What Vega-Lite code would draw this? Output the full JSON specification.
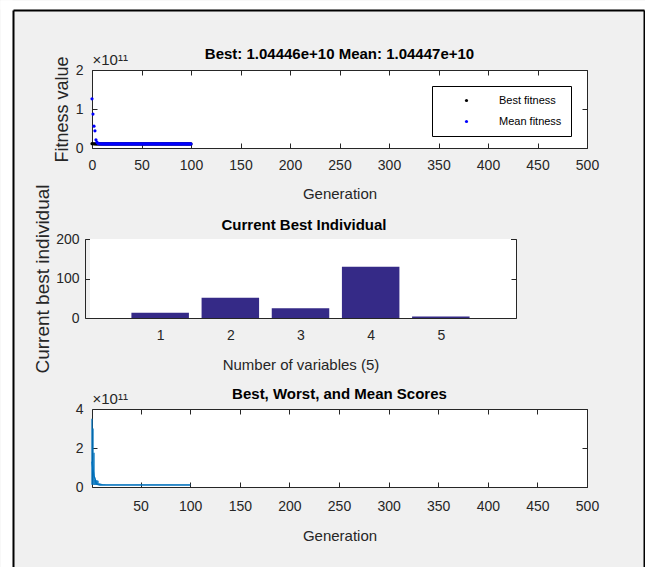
{
  "$schema": "https://vega.github.io/schema/vega-lite/v6.json",
  "autosize": {"type": "none"},
  "padding": {"left": 92, "top": 70, "right": 553, "bottom": 497},
  "background": "#f0f0f0",
  "bounds": "flush",
  "spacing": 91,
  "resolve": {"scale": {"color": "independent"}, "legend": {"color": "independent"}},
  "config": {
    "font": "Liberation Sans",
    "view": {"stroke": null, "fill": "white"},
    "axis": {
      "grid": false,
      "zindex": 1,
      "domainColor": "#262626",
      "tickColor": "#262626",
      "labelColor": "#262626",
      "titleColor": "#262626",
      "tickSize": -5,
      "labelFontSize": 14,
      "titleFontSize": 15,
      "titleFontWeight": "normal",
      "labelFlush": false,
      "labelOverlap": false
    },
    "title": {"fontSize": 15, "fontWeight": "bold", "color": "#000000", "frame": "group", "baseline": "alphabetic"}
  },
  "vconcat": [
    {
      "width": 495, "height": 78,
      "title": {"text": "Best: 1.04446e+10 Mean: 1.04447e+10", "offset": -69, "frame": "group", "baseline": "alphabetic"},
      "data": {"values": [
        {"g":0,"b":1.12e10,"m":1.26e11},{"g":1,"b":1.09e10,"m":8.7e10},{"g":2,"b":1.07e10,"m":5.6e10},{"g":3,"b":1.06e10,"m":4.4e10},{"g":4,"b":1.055e10,"m":2.1e10},{"g":5,"b":1.05e10,"m":1.5e10},{"g":6,"b":1.048e10,"m":1.2e10},{"g":7,"b":1.047e10,"m":1.1e10},{"g":8,"b":1.046e10,"m":1.07e10},{"g":9,"b":1.0455e10,"m":1.06e10},
        {"g":10,"b":1.0452e10,"m":1.052e10},{"g":11,"b":1.0450e10,"m":1.050e10},{"g":12,"b":1.0449e10,"m":1.049e10},{"g":13,"b":1.0449e10,"m":1.048e10},{"g":14,"b":1.0448e10,"m":1.048e10},{"g":15,"b":1.0448e10,"m":1.047e10},{"g":16,"b":1.0448e10,"m":1.047e10},{"g":17,"b":1.0447e10,"m":1.047e10},{"g":18,"b":1.0447e10,"m":1.046e10},{"g":19,"b":1.0447e10,"m":1.046e10},
        {"g":20,"b":1.0447e10,"m":1.046e10},{"g":21,"b":1.0447e10,"m":1.046e10},{"g":22,"b":1.0447e10,"m":1.046e10},{"g":23,"b":1.0447e10,"m":1.0458e10},{"g":24,"b":1.0447e10,"m":1.0458e10},{"g":25,"b":1.0447e10,"m":1.0457e10},{"g":26,"b":1.0447e10,"m":1.0457e10},{"g":27,"b":1.0447e10,"m":1.0456e10},{"g":28,"b":1.0447e10,"m":1.0456e10},{"g":29,"b":1.0447e10,"m":1.0456e10},
        {"g":30,"b":1.0447e10,"m":1.0455e10},{"g":31,"b":1.0447e10,"m":1.0455e10},{"g":32,"b":1.0447e10,"m":1.0455e10},{"g":33,"b":1.0447e10,"m":1.0454e10},{"g":34,"b":1.0447e10,"m":1.0454e10},{"g":35,"b":1.0447e10,"m":1.0454e10},{"g":36,"b":1.0446e10,"m":1.0453e10},{"g":37,"b":1.0446e10,"m":1.0453e10},{"g":38,"b":1.0446e10,"m":1.0453e10},{"g":39,"b":1.0446e10,"m":1.0452e10},
        {"g":40,"b":1.0446e10,"m":1.0452e10},{"g":41,"b":1.0446e10,"m":1.0452e10},{"g":42,"b":1.0446e10,"m":1.0452e10},{"g":43,"b":1.0446e10,"m":1.0451e10},{"g":44,"b":1.0446e10,"m":1.0451e10},{"g":45,"b":1.0446e10,"m":1.0451e10},{"g":46,"b":1.0446e10,"m":1.0451e10},{"g":47,"b":1.0446e10,"m":1.0450e10},{"g":48,"b":1.0446e10,"m":1.0450e10},{"g":49,"b":1.0446e10,"m":1.0450e10},
        {"g":50,"b":1.0446e10,"m":1.0450e10},{"g":51,"b":1.0446e10,"m":1.0450e10},{"g":52,"b":1.0446e10,"m":1.0449e10},{"g":53,"b":1.0446e10,"m":1.0449e10},{"g":54,"b":1.0446e10,"m":1.0449e10},{"g":55,"b":1.0446e10,"m":1.0449e10},{"g":56,"b":1.0446e10,"m":1.0449e10},{"g":57,"b":1.0446e10,"m":1.0449e10},{"g":58,"b":1.0446e10,"m":1.0449e10},{"g":59,"b":1.0446e10,"m":1.0448e10},
        {"g":60,"b":1.0446e10,"m":1.0448e10},{"g":61,"b":1.0446e10,"m":1.0448e10},{"g":62,"b":1.0446e10,"m":1.0448e10},{"g":63,"b":1.0446e10,"m":1.0448e10},{"g":64,"b":1.0446e10,"m":1.0448e10},{"g":65,"b":1.0446e10,"m":1.0448e10},{"g":66,"b":1.0446e10,"m":1.0448e10},{"g":67,"b":1.0446e10,"m":1.0448e10},{"g":68,"b":1.0446e10,"m":1.0448e10},{"g":69,"b":1.0446e10,"m":1.0448e10},
        {"g":70,"b":1.0446e10,"m":1.0448e10},{"g":71,"b":1.0446e10,"m":1.0447e10},{"g":72,"b":1.0446e10,"m":1.0447e10},{"g":73,"b":1.0446e10,"m":1.0447e10},{"g":74,"b":1.0446e10,"m":1.0447e10},{"g":75,"b":1.0446e10,"m":1.0447e10},{"g":76,"b":1.0446e10,"m":1.0447e10},{"g":77,"b":1.0446e10,"m":1.0447e10},{"g":78,"b":1.0446e10,"m":1.0447e10},{"g":79,"b":1.0446e10,"m":1.0447e10},
        {"g":80,"b":1.0446e10,"m":1.0447e10},{"g":81,"b":1.0446e10,"m":1.0447e10},{"g":82,"b":1.0446e10,"m":1.0447e10},{"g":83,"b":1.0446e10,"m":1.0447e10},{"g":84,"b":1.0446e10,"m":1.0447e10},{"g":85,"b":1.0446e10,"m":1.0447e10},{"g":86,"b":1.0446e10,"m":1.0447e10},{"g":87,"b":1.0446e10,"m":1.0447e10},{"g":88,"b":1.0446e10,"m":1.0447e10},{"g":89,"b":1.0446e10,"m":1.0447e10},
        {"g":90,"b":1.0446e10,"m":1.0447e10},{"g":91,"b":1.0446e10,"m":1.0447e10},{"g":92,"b":1.0446e10,"m":1.0447e10},{"g":93,"b":1.0446e10,"m":1.0447e10},{"g":94,"b":1.0446e10,"m":1.0447e10},{"g":95,"b":1.0446e10,"m":1.0447e10},{"g":96,"b":1.0446e10,"m":1.0447e10},{"g":97,"b":1.0446e10,"m":1.0447e10},{"g":98,"b":1.0446e10,"m":1.0447e10},{"g":99,"b":1.0446e10,"m":1.0447e10},
        {"g":100,"b":1.04446e10,"m":1.04447e10}
      ]},
      "layer": [
        {
          "layer": [
            {
              "mark": {"type": "point", "filled": true, "size": 10, "opacity": 1},
              "encoding": {
                "x": {"field": "g", "type": "quantitative", "scale": {"domain": [0, 500], "nice": false, "zero": false},
                      "axis": {"orient": "bottom", "values": [0,50,100,150,200,250,300,350,400,450,500], "title": "Generation", "labelPadding": 15, "titlePadding": 14}},
                "y": {"field": "b", "type": "quantitative", "scale": {"domain": [0, 200000000000], "nice": false},
                      "axis": {"orient": "left", "values": [0, 100000000000, 200000000000], "labelExpr": "format(datum.value/1e11, 'd')", "title": "Fitness value", "titleFontSize": 18, "labelPadding": 14, "titlePadding": 4}},
                "color": {"datum": "Best fitness", "type": "nominal",
                          "scale": {"domain": ["Best fitness", "Mean fitness"], "range": ["#000000", "#0000ff"]},
                          "legend": {"title": null, "orient": "top-right", "offset": 16, "fillColor": "white", "strokeColor": "#000000", "padding": 9, "rowPadding": 9, "symbolType": "circle", "symbolSize": 10, "symbolOffset": 20, "labelOffset": 27, "labelFontSize": 11, "labelColor": "#000000"}}
              }
            },
            {
              "mark": {"type": "point", "filled": true, "size": 10, "opacity": 1},
              "encoding": {
                "x": {"field": "g", "type": "quantitative", "axis": {"orient": "top", "values": [0,50,100,150,200,250,300,350,400,450,500], "labels": false, "title": "×10¹¹", "titleAnchor": "start", "titleFontSize": 15, "titlePadding": 2}},
                "y": {"field": "m", "type": "quantitative", "axis": {"orient": "right", "values": [0, 100000000000, 200000000000], "labels": false, "title": null}},
                "color": {"datum": "Mean fitness", "type": "nominal"}
              }
            }
          ]
        },
        {
          "mark": {"type": "point", "opacity": 0},
          "encoding": {
            "x": {"datum": 0, "type": "quantitative", "scale": {"domain": [0, 1], "range": [-92, 553], "nice": false, "zero": false},
                  "axis": {"orient": "top", "offset": 65.5, "ticks": false, "labels": false, "title": null, "domainColor": "#ffffff", "domainWidth": 9}},
            "y": {"datum": 0, "type": "quantitative", "scale": {"domain": [0, 1], "range": [497, -70], "nice": false, "zero": false},
                  "axis": {"orient": "left", "offset": 86, "ticks": false, "labels": false, "title": null, "domainColor": "#ffffff", "domainWidth": 12}}
          }
        },
        {
          "layer": [
            {
              "mark": {"type": "point", "opacity": 0},
              "encoding": {
                "x": {"datum": 0, "type": "quantitative", "scale": {"domain": [0, 1], "range": [-79, 552], "nice": false, "zero": false},
                      "axis": {"orient": "top", "offset": 60, "ticks": false, "labels": false, "title": null, "domainColor": "#000000", "domainWidth": 2}},
                "y": {"datum": 0, "type": "quantitative", "scale": {"domain": [0, 1], "range": [497, -60], "nice": false, "zero": false},
                      "axis": {"orient": "left", "offset": 79, "ticks": false, "labels": false, "title": null, "domainColor": "#000000", "domainWidth": 2}}
              }
            },
            {
              "mark": {"type": "point", "opacity": 0},
              "encoding": {
                "y": {"datum": 0, "type": "quantitative",
                      "axis": {"orient": "right", "offset": 57, "ticks": false, "labels": false, "title": null, "domainColor": "#000000", "domainWidth": 2}}
              }
            }
          ]
        }
      ],
      "resolve": {"scale": {"x": "independent", "y": "independent"}}
    },
    {
      "width": 424, "height": 79,
      "title": {"text": "Current Best Individual", "offset": -61, "frame": "group", "baseline": "alphabetic"},
      "data": {"values": [{"v":1,"val":13.5},{"v":2,"val":51},{"v":3,"val":24.5},{"v":4,"val":130},{"v":5,"val":4}]},
      "layer": [
        {
          "mark": {"type": "rect", "color": "white"},
          "encoding": {
            "x": {"datum": 0, "type": "quantitative", "axis": null},
            "x2": {"datum": 6},
            "y": {"datum": 0, "type": "quantitative", "axis": null},
            "y2": {"datum": 200}
          }
        },
        {
          "mark": {"type": "bar", "orient": "vertical", "size": 57.5, "color": "#352a87"},
          "encoding": {
            "x": {"field": "v", "type": "quantitative", "scale": {"domain": [0, 6], "range": [-7, 424], "nice": false, "zero": false},
                  "axis": {"orient": "bottom", "values": [1,2,3,4,5], "title": "Number of variables (5)", "labelPadding": 15, "titlePadding": 15}},
            "y": {"field": "val", "type": "quantitative", "scale": {"domain": [0, 200], "nice": false},
                  "axis": {"orient": "left", "offset": 7, "values": [0, 100, 200], "title": "Current best individual", "titleFontSize": 19, "labelPadding": 11, "titlePadding": 3}}
          }
        },
        {
          "mark": {"type": "point", "opacity": 0},
          "encoding": {
            "x": {"field": "v", "type": "quantitative", "axis": {"orient": "top", "values": [1,2,3,4,5], "labels": false, "title": null}},
            "y": {"field": "val", "type": "quantitative", "axis": {"orient": "right", "values": [0, 100, 200], "labels": false, "title": null}}
          }
        }
      ]
    },
    {
      "width": 495, "height": 78,
      "title": {"text": "Best, Worst, and Mean Scores", "offset": -22, "frame": "group", "baseline": "alphabetic"},
      "data": {"values": [
        {"g":1,"b":1.12e10,"m":1.3e11,"w":3.5e11},{"g":2,"b":1.09e10,"m":9e10,"w":3.0e11},{"g":3,"b":1.07e10,"m":5.6e10,"w":1.76e11},{"g":4,"b":1.06e10,"m":4.4e10,"w":3.6e10},{"g":5,"b":1.055e10,"m":2.1e10,"w":3.5e10},{"g":6,"b":1.05e10,"m":1.5e10,"w":3.4e10},{"g":7,"b":1.048e10,"m":1.2e10,"w":3.2e10},{"g":8,"b":1.047e10,"m":1.1e10,"w":1.9e10},{"g":9,"b":1.046e10,"m":1.07e10,"w":1.8e10},{"g":10,"b":1.0455e10,"m":1.06e10,"w":1.7e10},
        {"g":11,"b":1.0452e10,"m":1.052e10,"w":1.6e10},{"g":12,"b":1.045e10,"m":1.05e10,"w":1.3e10},{"g":13,"b":1.0449e10,"m":1.049e10,"w":1.25e10},{"g":14,"b":1.0449e10,"m":1.048e10,"w":1.22e10},{"g":15,"b":1.0448e10,"m":1.048e10,"w":1.2e10},{"g":16,"b":1.0448e10,"m":1.047e10,"w":1.2e10},{"g":17,"b":1.0448e10,"m":1.047e10,"w":1.2e10},{"g":18,"b":1.0447e10,"m":1.047e10,"w":1.2e10},{"g":19,"b":1.0447e10,"m":1.046e10,"w":1.2e10},{"g":20,"b":1.0447e10,"m":1.046e10,"w":1.2e10},
        {"g":21,"b":1.0447e10,"m":1.046e10,"w":1.2e10},{"g":22,"b":1.0447e10,"m":1.046e10,"w":1.2e10},{"g":23,"b":1.0447e10,"m":1.046e10,"w":1.2e10},{"g":24,"b":1.0447e10,"m":1.0458e10,"w":1.2e10},{"g":25,"b":1.0447e10,"m":1.0458e10,"w":1.2e10},{"g":26,"b":1.0447e10,"m":1.0457e10,"w":1.2e10},{"g":27,"b":1.0447e10,"m":1.0457e10,"w":1.2e10},{"g":28,"b":1.0447e10,"m":1.0456e10,"w":1.2e10},{"g":29,"b":1.0447e10,"m":1.0456e10,"w":1.2e10},{"g":30,"b":1.0447e10,"m":1.0456e10,"w":1.2e10},
        {"g":31,"b":1.0447e10,"m":1.0455e10,"w":1.2e10},{"g":32,"b":1.0447e10,"m":1.0455e10,"w":1.2e10},{"g":33,"b":1.0447e10,"m":1.0455e10,"w":1.2e10},{"g":34,"b":1.0447e10,"m":1.0454e10,"w":1.2e10},{"g":35,"b":1.0447e10,"m":1.0454e10,"w":1.2e10},{"g":36,"b":1.0447e10,"m":1.0454e10,"w":1.2e10},{"g":37,"b":1.0446e10,"m":1.0453e10,"w":1.2e10},{"g":38,"b":1.0446e10,"m":1.0453e10,"w":1.2e10},{"g":39,"b":1.0446e10,"m":1.0453e10,"w":1.2e10},{"g":40,"b":1.0446e10,"m":1.0452e10,"w":1.2e10},
        {"g":41,"b":1.0446e10,"m":1.0452e10,"w":1.2e10},{"g":42,"b":1.0446e10,"m":1.0452e10,"w":1.2e10},{"g":43,"b":1.0446e10,"m":1.0452e10,"w":1.2e10},{"g":44,"b":1.0446e10,"m":1.0451e10,"w":1.2e10},{"g":45,"b":1.0446e10,"m":1.0451e10,"w":1.2e10},{"g":46,"b":1.0446e10,"m":1.0451e10,"w":1.2e10},{"g":47,"b":1.0446e10,"m":1.0451e10,"w":1.2e10},{"g":48,"b":1.0446e10,"m":1.045e10,"w":1.2e10},{"g":49,"b":1.0446e10,"m":1.045e10,"w":1.2e10},{"g":50,"b":1.0446e10,"m":1.045e10,"w":1.2e10},
        {"g":51,"b":1.0446e10,"m":1.045e10,"w":1.2e10},{"g":52,"b":1.0446e10,"m":1.045e10,"w":1.2e10},{"g":53,"b":1.0446e10,"m":1.0449e10,"w":1.2e10},{"g":54,"b":1.0446e10,"m":1.0449e10,"w":1.2e10},{"g":55,"b":1.0446e10,"m":1.0449e10,"w":1.2e10},{"g":56,"b":1.0446e10,"m":1.0449e10,"w":1.2e10},{"g":57,"b":1.0446e10,"m":1.0449e10,"w":1.2e10},{"g":58,"b":1.0446e10,"m":1.0449e10,"w":1.2e10},{"g":59,"b":1.0446e10,"m":1.0449e10,"w":1.2e10},{"g":60,"b":1.0446e10,"m":1.0448e10,"w":1.2e10},
        {"g":61,"b":1.0446e10,"m":1.0448e10,"w":1.2e10},{"g":62,"b":1.0446e10,"m":1.0448e10,"w":1.2e10},{"g":63,"b":1.0446e10,"m":1.0448e10,"w":1.2e10},{"g":64,"b":1.0446e10,"m":1.0448e10,"w":1.2e10},{"g":65,"b":1.0446e10,"m":1.0448e10,"w":1.2e10},{"g":66,"b":1.0446e10,"m":1.0448e10,"w":1.2e10},{"g":67,"b":1.0446e10,"m":1.0448e10,"w":1.2e10},{"g":68,"b":1.0446e10,"m":1.0448e10,"w":1.2e10},{"g":69,"b":1.0446e10,"m":1.0448e10,"w":1.2e10},{"g":70,"b":1.0446e10,"m":1.0448e10,"w":1.2e10},
        {"g":71,"b":1.0446e10,"m":1.0448e10,"w":1.2e10},{"g":72,"b":1.0446e10,"m":1.0447e10,"w":1.2e10},{"g":73,"b":1.0446e10,"m":1.0447e10,"w":1.2e10},{"g":74,"b":1.0446e10,"m":1.0447e10,"w":1.2e10},{"g":75,"b":1.0446e10,"m":1.0447e10,"w":1.2e10},{"g":76,"b":1.0446e10,"m":1.0447e10,"w":1.2e10},{"g":77,"b":1.0446e10,"m":1.0447e10,"w":1.2e10},{"g":78,"b":1.0446e10,"m":1.0447e10,"w":1.2e10},{"g":79,"b":1.0446e10,"m":1.0447e10,"w":1.2e10},{"g":80,"b":1.0446e10,"m":1.0447e10,"w":1.2e10},
        {"g":81,"b":1.0446e10,"m":1.0447e10,"w":1.2e10},{"g":82,"b":1.0446e10,"m":1.0447e10,"w":1.2e10},{"g":83,"b":1.0446e10,"m":1.0447e10,"w":1.2e10},{"g":84,"b":1.0446e10,"m":1.0447e10,"w":1.2e10},{"g":85,"b":1.0446e10,"m":1.0447e10,"w":1.2e10},{"g":86,"b":1.0446e10,"m":1.0447e10,"w":1.2e10},{"g":87,"b":1.0446e10,"m":1.0447e10,"w":1.2e10},{"g":88,"b":1.0446e10,"m":1.0447e10,"w":1.2e10},{"g":89,"b":1.0446e10,"m":1.0447e10,"w":1.2e10},{"g":90,"b":1.0446e10,"m":1.0447e10,"w":1.2e10},
        {"g":91,"b":1.0446e10,"m":1.0447e10,"w":1.2e10},{"g":92,"b":1.0446e10,"m":1.0447e10,"w":1.2e10},{"g":93,"b":1.0446e10,"m":1.0447e10,"w":1.2e10},{"g":94,"b":1.0446e10,"m":1.0447e10,"w":1.2e10},{"g":95,"b":1.0446e10,"m":1.0447e10,"w":1.2e10},{"g":96,"b":1.0446e10,"m":1.0447e10,"w":1.2e10},{"g":97,"b":1.0446e10,"m":1.0447e10,"w":1.2e10},{"g":98,"b":1.0446e10,"m":1.0447e10,"w":1.2e10},{"g":99,"b":1.0446e10,"m":1.0447e10,"w":1.2e10},{"g":100,"b":1.04446e10,"m":1.04447e10,"w":1.2e10}
      ]},
      "layer": [
        {
          "mark": {"type": "rule", "color": "#0072bd", "strokeWidth": 1.3},
          "encoding": {
            "x": {"field": "g", "type": "quantitative", "scale": {"domain": [1, 500], "nice": false, "zero": false},
                  "axis": {"orient": "bottom", "values": [50,100,150,200,250,300,350,400,450,500], "title": "Generation", "labelPadding": 17, "titlePadding": 15}},
            "y": {"field": "b", "type": "quantitative", "scale": {"domain": [0, 400000000000], "nice": false},
                  "axis": {"orient": "left", "values": [0, 200000000000, 400000000000], "labelExpr": "format(datum.value/1e11, 'd')", "title": null, "labelPadding": 14}},
            "y2": {"field": "w"}
          }
        },
        {
          "mark": {"type": "line", "color": "#0072bd", "strokeWidth": 1.5},
          "encoding": {
            "x": {"field": "g", "type": "quantitative", "axis": {"orient": "top", "values": [50,100,150,200,250,300,350,400,450,500], "labels": false, "title": "×10¹¹", "titleAnchor": "start", "titleFontSize": 15, "titlePadding": 2}},
            "y": {"field": "m", "type": "quantitative", "axis": {"orient": "right", "values": [0, 200000000000, 400000000000], "labels": false, "title": null}}
          }
        }
      ]
    }
  ]
}
